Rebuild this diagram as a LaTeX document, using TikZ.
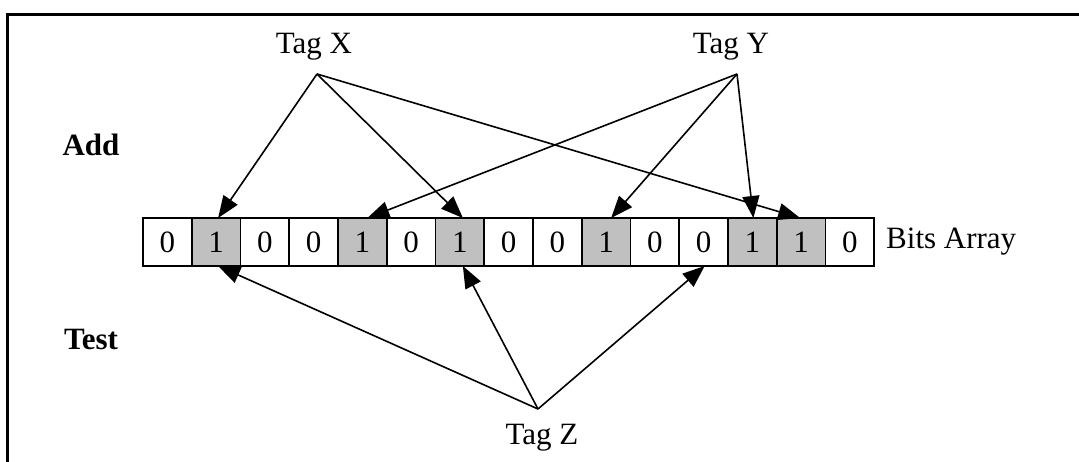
\documentclass[tikz,border=0pt]{standalone}
\usepackage{fontspec}
\setmainfont{Liberation Serif}
\usetikzlibrary{arrows.meta}
\definecolor{cellgray}{RGB}{192,192,192}
\tikzset{
  cell/.style={draw, line width=1.6pt, minimum width=48.75pt, minimum height=48pt,
    inner sep=0pt, outer sep=0pt, font=\fontsize{31}{36}\selectfont},
  lbl/.style={inner sep=0pt, font=\fontsize{31}{36}\selectfont},
  boldlbl/.style={inner sep=0pt, font=\fontsize{31}{36}\selectfont\bfseries},
  arr/.style={line width=1.6pt, -{Triangle[length=22pt,width=17pt]}},
  frame/.style={line width=2.2pt}
}
\begin{document}
\begin{tikzpicture}[x=1pt,y=-1pt]
\useasboundingbox (0,0) rectangle (1079,462);
\draw[frame] (7.5,462) -- (7.5,14.5) -- (1079,14.5);
\foreach \i/\v/\f in {0/0/white,1/1/cellgray,2/0/white,3/0/white,4/1/cellgray,5/0/white,6/1/cellgray,7/0/white,8/0/white,9/1/cellgray,10/0/white,11/0/white,12/1/cellgray,13/1/cellgray,14/0/white}{
  \node[cell, fill=\f] (c\i) at ({143+48.75*(\i+0.5)},242) {\v};
}
\node[lbl, anchor=west] (bits) at (886,242) {Bits Array};
\node[boldlbl] (add) at (91,145) {Add};
\node[boldlbl] (test) at (91,340) {Test};
\node[lbl] (tx) at (314,47) {Tag X};
\node[lbl] (ty) at (731,47) {Tag Y};
\node[lbl] (tz) at (542,438) {Tag Z};
\coordinate (ax) at (317,74);
\coordinate (ay) at (737,74);
\coordinate (az) at (538,409);
% Tag X
\draw[arr] (ax) -- ([xshift=2pt]c1.north);
\draw[arr] (ax) -- ([xshift=3pt]c6.north);
\draw[arr] (ax) -- ([xshift=-1pt]c13.north);
% Tag Y
\draw[arr] (ay) -- ([xshift=5pt]c4.north);
\draw[arr] (ay) -- ([xshift=5pt]c9.north);
\draw[arr] (ay) -- ([xshift=1pt]c12.north);
% Tag Z
\draw[arr] (az) -- ([xshift=2pt]c1.south);
\draw[arr] (az) -- ([xshift=3pt]c6.south);
\draw[arr] (az) -- ([xshift=1pt]c11.south);
\end{tikzpicture}
\end{document}
